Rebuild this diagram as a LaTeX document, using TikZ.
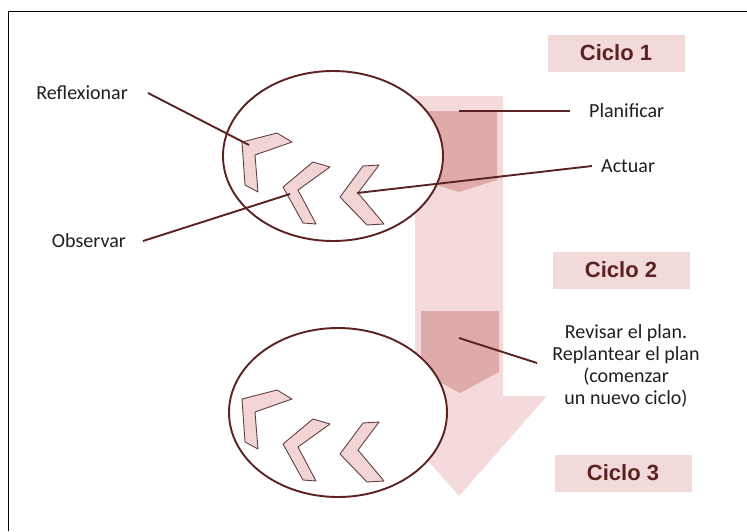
\documentclass[tikz,border=0pt]{standalone}
\usepackage{fontspec}
\setmainfont{Carlito}
\newfontfamily\cyclefont{Liberation Sans}
\usetikzlibrary{calc}
\definecolor{lightrose}{RGB}{244,218,218}
\definecolor{darkrose}{RGB}{222,170,170}
\definecolor{boxrose}{RGB}{242,218,218}
\definecolor{wine}{RGB}{92,34,34}
\definecolor{chevfill}{RGB}{242,212,212}
\definecolor{chevline}{RGB}{95,65,65}
\tikzset{
  lead/.style={wine, line width=1.9pt},
  cyclebox/.style={fill=boxrose, minimum width=137pt, minimum height=37pt, font=\cyclefont\bfseries\fontsize{22}{26}\selectfont, text=wine},
  lbl/.style={font=\fontsize{20}{22}\selectfont, text=black!88, inner ysep=0pt},
  chev/.style={fill=chevfill, draw=chevline, line width=0.9pt, line join=round},
  loopring/.style={draw=wine, line width=1.9pt, fill=white},
}

\begin{document}
\begin{tikzpicture}[x=1pt,y=-1pt]
\useasboundingbox (0,0) rectangle (747,531);
%frame
	\draw[line width=0.9pt] (8,531) |- (747,11);
	
	%big arrow
	\fill[lightrose] (415,96) -- (503,96) -- (503,396) -- (547,396) -- (459,496) -- (371,396) -- (415,396) -- cycle;
	\fill[darkrose] (421,111) -- (497,111) -- (497,180) -- (459,192) -- (421,180) -- cycle;
	\fill[darkrose] (421,311) -- (499,311) -- (499,372) -- (460,393) -- (421,372) -- cycle;
	\coordinate (plan) at (459,111);
	\coordinate (revise) at (459,338);
	
	%cycles
	\foreach \cx/\cy/\rx/\ry in {333/156/110/85, 338/412.5/109/84.5}
		\draw[loopring] (\cx,\cy) ellipse [x radius=\rx, y radius=\ry];
	\foreach \sy in {156,413}{
		\begin{scope}[shift={(333,\sy)}]
			\draw[chev] (-91,-14) -- (-56,-23) -- (-41,-14) -- (-78,-1) -- (-75,36) -- (-88,29) -- cycle;
			\draw[chev] (-50,31) -- (-20,6) -- (-3,11) -- (-35,34) -- (-17,68) -- (-30,67) -- cycle;
			\draw[chev] (7,41) -- (30,10) -- (46,9) -- (25,37) -- (51,68) -- (34,69) -- cycle;
		\end{scope}
	}
	\coordinate (reflpt) at (249,145);
	\coordinate (obspt) at (290,194);
	\coordinate (actpt) at (357,193);
	
	%labels
	\node[lbl, anchor=east, inner xsep=20pt] (refl) at (148,93) {Reflexionar};
	\node[lbl, anchor=east, inner xsep=17pt] (obs) at (143,241) {Observar};
	\node[lbl, anchor=west, inner xsep=19pt] (planl) at (570,111) {Planificar};
	\node[lbl, anchor=west, inner xsep=9pt] (act) at (592,166) {Actuar};
	\node[lbl, align=center] (rev) at (626,366) {Revisar el plan.\\Replantear el plan\\(comenzar\\un nuevo ciclo)};
	\coordinate (revend) at (537,363);
	
	%leads
	\draw[lead] (refl.east) -- (reflpt);
	\draw[lead] (obs.east) -- (obspt);
	\draw[lead] (plan) -- (planl.west);
	\draw[lead] (actpt) -- (act.west);
	\draw[lead] (revise) -- (revend);
	
	%cycle boxes
	\node[cyclebox] (c1) at (616,53) {Ciclo 1};
	\node[cyclebox] (c2) at (621,270) {Ciclo 2};
	\node[cyclebox] (c3) at (623,473) {Ciclo 3};
\end{tikzpicture}
\end{document}
